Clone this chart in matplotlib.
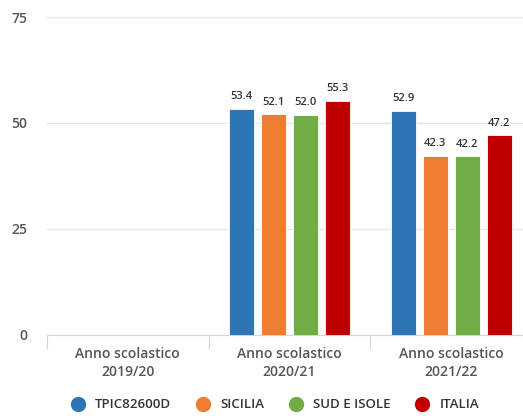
import numpy as np
import matplotlib.pyplot as plt

categories = ["Anno scolastico\n2019/20", "Anno scolastico\n2020/21", "Anno scolastico\n2021/22"]
series = ["TPIC82600D", "SICILIA", "SUD E ISOLE", "ITALIA"]
colors = ["#2e75b6", "#ed7d31", "#70ad47", "#c00000"]
tpic = [np.nan, 53.4, 52.9]
sicilia = [np.nan, 52.1, 42.3]
sud = [np.nan, 52.0, 42.2]
italia = [np.nan, 55.3, 47.2]
values = [tpic, sicilia, sud, italia]

plt.rcParams['font.family'] = ['Open Sans', 'DejaVu Sans']

fig = plt.figure(figsize=(5.23, 4.16), dpi=100)
ax = fig.add_axes([47 / 523, 81 / 416, 485 / 523, 318 / 416])

x = np.arange(len(categories))
width = 0.155
step = 0.198
for i, (name, vals, col) in enumerate(zip(series, values, colors)):
    pos = x + (i - 1.5) * step
    ax.bar(pos, vals, width, color=col, label=name, zorder=3,
           edgecolor="white", linewidth=0.6)
    for px, v in zip(pos, vals):
        if not np.isnan(v):
            ax.text(px, v + 1.5, f"{v:.1f}", ha="center", va="bottom",
                    fontsize=8, color="#333333", fontweight="semibold")

ax.set_xlim(-0.5, 2.5)
ax.set_ylim(0, 75)
ax.set_yticks([0, 25, 50, 75])
ax.grid(axis="y", color="#e6e6e6", linewidth=1, zorder=0)
ax.set_axisbelow(True)
for s in ["top", "right", "left"]:
    ax.spines[s].set_visible(False)
ax.spines["bottom"].set_color("#ccd6eb")

ax.set_xticks([-0.5, 0.5, 1.5, 2.5])
ax.set_xticklabels([])
ax.set_xticks(x, minor=True)
ax.set_xticklabels(categories, minor=True, fontsize=10, color="#555555",
                   fontweight="semibold", linespacing=1.3)
ax.tick_params(axis="x", which="major", length=10, color="#ccd6eb")
ax.tick_params(axis="x", which="minor", length=0, pad=9)
ax.tick_params(axis="y", length=0, pad=14, labelsize=10, labelcolor="#555555")
for lbl in ax.get_yticklabels():
    lbl.set_fontweight("semibold")

handles = [plt.Line2D([], [], marker="o", linestyle="", markersize=10,
                      color=c) for c in colors]
fig.legend(handles, series, loc="center", bbox_to_anchor=(0.52, 0.027),
           ncol=4, frameon=False, handletextpad=0.3, columnspacing=1.4,
           prop={"size": 9.5, "weight": "semibold"}, labelcolor="#333333")

fig.savefig("out.png", dpi=100)
